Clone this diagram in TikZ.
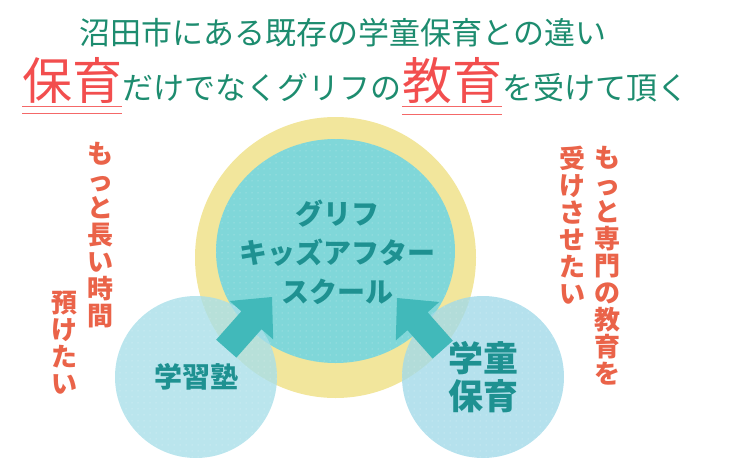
\documentclass[tikz,border=0pt]{standalone}
\usepackage{fontspec}
\setmainfont{Noto Sans CJK JP}
\usetikzlibrary{shapes.geometric,patterns.meta}

\definecolor{ringyellow}{HTML}{F2E69C}
\definecolor{coreteal}{HTML}{80D7D9}
\definecolor{sideblue}{HTML}{A9DFE9}
\definecolor{sideblue2}{HTML}{A3DAE9}
\definecolor{arrowteal}{HTML}{41B9BA}
\definecolor{darkteal}{HTML}{1E9191}
\definecolor{wishred}{HTML}{EA6349}
\definecolor{titlegreen}{HTML}{1D8C6F}
\definecolor{bigred}{HTML}{F24E4E}

\tikzset{
  dotgrid/.style={postaction={pattern={Dots[distance=6pt,radius=0.5pt]},pattern color=white,fill opacity=0.5}},
  side/.style={circle,fill=sideblue,fill opacity=0.8,text opacity=1,minimum size=162pt,inner sep=0pt,
    align=center,text=darkteal,dotgrid},
  ctext/.style={align=center,inner sep=0pt,text=darkteal},
  wish/.style={align=center,inner sep=0pt,text=wishred,font=\bfseries\fontsize{26}{27}\selectfont},
  bigword/.style={inner sep=0pt,text=bigred,anchor=base west,font=\fontsize{50}{50}\selectfont},
  smallword/.style={inner sep=0pt,text=titlegreen,anchor=base west,font=\fontsize{31}{31}\selectfont},
  uline/.style={bigred,line width=1.4pt,opacity=0.85}
}

\begin{document}
\begin{tikzpicture}[x=1pt,y=-1pt,line join=round]
\useasboundingbox (0,0) rectangle (748,469);

% heading
\node (title) [smallword,anchor=center] at (343,33) {沼田市にある既存の学童保育との違い};
\node (hoiku) [bigword] at (22,99) {保育};
\node (dake) [smallword] at (hoiku.base east) {だけでなくグリフの};
\node (kyoiku) [bigword] at (dake.base east) {教育};
\node (ukete) [smallword] at (kyoiku.base east) {を受けて頂く};
\draw[uline] ([yshift=-3pt]hoiku.south west) -- ([yshift=-3pt]hoiku.south east);
\draw[uline] ([yshift=-10pt]hoiku.south west) -- ([yshift=-10pt]hoiku.south east);
\draw[uline] ([yshift=-3pt]kyoiku.south west) -- ([yshift=-3pt]kyoiku.south east);
\draw[uline] ([yshift=-11pt]kyoiku.south west) -- ([yshift=-11pt]kyoiku.south east);

% center circle
\node (ring) [circle,fill=ringyellow,minimum size=281pt,inner sep=0pt] at (335.5,257.5) {};
\node (core) [ellipse,fill=coreteal,minimum width=239pt,minimum height=224pt,inner sep=0pt,dotgrid] at (335.5,251) {};
\node (kids) [ctext,font=\bfseries\fontsize{28}{39}\selectfont] at (337,252) {グリフ\\キッズアフター\\スクール};

% side circles
\node (juku) [side,font=\bfseries\fontsize{28}{28}\selectfont] at (196,377) {学習塾};
\node (gakudo) [side,fill=sideblue2,font=\bfseries\fontsize{35}{38}\selectfont] at (483,377) {学童\\保育};

% arrows
\begin{scope}[shift={(272,297)},rotate=48.5]
  \fill[arrowteal] (0,0) -- (-31,29) -- (-31,13.5) -- (-69,13.5) -- (-69,-13.5) -- (-31,-13.5) -- (-31,-29) -- cycle;
\end{scope}
\begin{scope}[shift={(397,298)},rotate=131.5]
  \fill[arrowteal] (0,0) -- (-31,29) -- (-31,13.5) -- (-69,13.5) -- (-69,-13.5) -- (-31,-13.5) -- (-31,-29) -- cycle;
\end{scope}

% wishes
\node (longer) [wish] at (100,235) {も\\っ\\と\\長\\い\\時\\間};
\node (azuke) [wish] at (65,343) {預\\け\\た\\い};
\node (senmon) [wish] at (607,266) {も\\っ\\と\\専\\門\\の\\教\\育\\を};
\node (ukesase) [wish] at (572,225) {受\\け\\さ\\せ\\た\\い};
\end{tikzpicture}
\end{document}
